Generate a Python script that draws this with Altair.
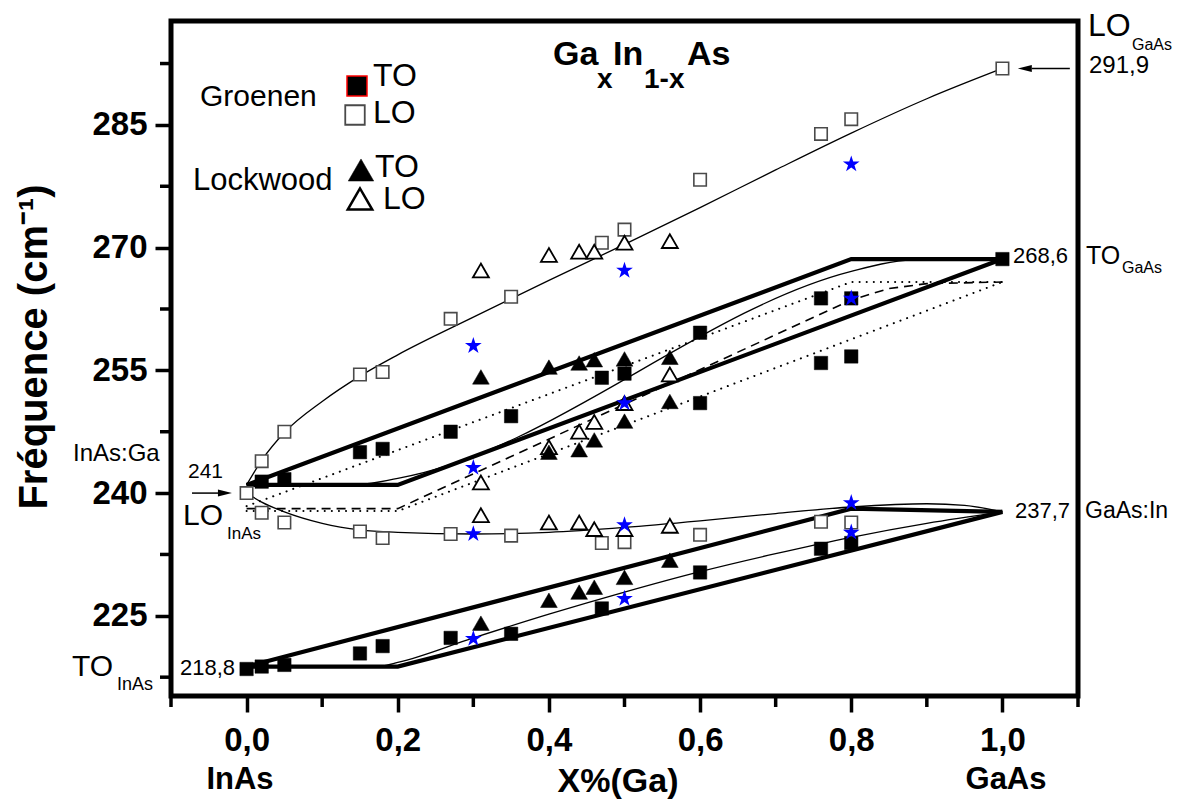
import altair as alt
import pandas as pd

FONT = "Liberation Sans"

# ---------------- data ----------------
# Groenen TO (filled squares)
gto_x = [0.0, 0.02, 0.05, 0.15, 0.18, 0.27, 0.35, 0.47, 0.6, 0.76, 0.8,
         0.02, 0.05, 0.15, 0.18, 0.27, 0.35, 0.47, 0.5, 0.6, 0.76, 0.8,
         0.6, 0.76, 0.8, 1.0]
gto_y = [218.5, 218.8, 219.0, 220.4, 221.3, 222.3, 222.8, 225.9, 230.3, 233.2, 233.9,
         241.4, 241.7, 245.0, 245.4, 247.5, 249.4, 254.1, 254.6, 259.6, 263.8, 263.8,
         251.0, 255.9, 256.7, 268.6]
# Groenen LO (open squares)
glo_x = [0.0, 0.02, 0.05, 0.15, 0.18, 0.27, 0.35, 0.47, 0.5, 0.6, 0.76, 0.8, 1.0,
         0.02, 0.05, 0.15, 0.18, 0.27, 0.35, 0.47, 0.5, 0.6, 0.76, 0.8]
glo_y = [240.0, 243.9, 247.5, 254.5, 254.8, 261.3, 264.0, 270.6, 272.2, 278.3, 283.9, 285.7, 291.9,
         237.6, 236.4, 235.3, 234.5, 235.0, 234.8, 233.9, 234.0, 234.9, 236.5, 236.4]
# Lockwood TO (filled triangles)
lto_x = [0.31, 0.4, 0.44, 0.46, 0.5, 0.56,
         0.4, 0.44, 0.46, 0.5, 0.56,
         0.31, 0.4, 0.44, 0.46, 0.5, 0.56]
lto_y = [254.2, 255.4, 255.9, 256.3, 256.4, 256.6,
         245.0, 245.3, 246.5, 248.8, 251.2,
         224.1, 226.9, 227.9, 228.5, 229.7, 231.8]
# Lockwood LO (open triangles)
llo_x = [0.31, 0.4, 0.44, 0.46, 0.5, 0.56,
         0.31, 0.4, 0.44, 0.46, 0.5, 0.56,
         0.31, 0.4, 0.44, 0.46, 0.5, 0.56]
llo_y = [267.2, 269.1, 269.5, 269.5, 270.6, 270.8,
         241.3, 245.6, 247.5, 248.7, 251.0, 254.5,
         237.3, 236.4, 236.4, 235.6, 235.6, 236.0]
# present work (blue stars)
star_x = [0.3, 0.3, 0.3, 0.3, 0.5, 0.5, 0.5, 0.5, 0.8, 0.8, 0.8, 0.8]
star_y = [258.0, 243.1, 235.0, 222.2, 267.2, 251.0, 236.1, 227.1, 280.2, 263.8, 238.8, 235.2]

# model curves
lo_up_x = [0.0, 0.02, 0.05, 0.1, 0.15, 0.2, 0.3, 0.4, 0.5, 0.6, 0.7, 0.8, 0.9, 1.0]
lo_up_y = [241.0, 244.0, 247.4, 251.2, 254.3, 256.9, 261.5, 266.0, 270.4, 274.9, 279.5, 284.0, 288.2, 291.9]
lo_dn_x = [0.0, 0.02, 0.05, 0.1, 0.15, 0.2, 0.3, 0.4, 0.5, 0.6, 0.7, 0.8, 0.9, 0.95, 1.0]
lo_dn_y = [240.0, 238.9, 237.7, 236.3, 235.5, 235.2, 235.0, 235.2, 235.8, 236.6, 237.5, 238.3, 238.7, 238.5, 237.7]

ta_x = [0.0, 0.8, 1.0]
ta_y = [241.0, 268.6, 268.6]
tb_x = [0.0, 0.2, 1.0]
tb_y = [241.0, 241.0, 268.6]
tc_x = [0.0, 0.15, 0.2, 0.8, 0.84, 0.88, 0.92, 1.0]
tc_y = [241.0, 241.1, 241.8, 267.1, 268.0, 268.5, 268.6, 268.6]
d1_x = [0.0, 0.8, 1.0]
d1_y = [238.4, 265.8, 265.8]
dd_x = [0.0, 0.2, 0.8, 0.85, 0.9, 1.0]
dd_y = [238.1, 238.1, 263.6, 265.0, 265.6, 265.8]
d3_x = [0.0, 0.2, 1.0]
d3_y = [237.8, 237.8, 265.8]

te_x = [0.0, 0.8, 1.0]
te_y = [218.8, 238.1, 237.7]
tf_x = [0.0, 0.2, 1.0]
tf_y = [218.8, 218.8, 237.7]
tg_x = [0.0, 0.18, 0.2, 0.3, 0.4, 0.5, 0.6, 0.7, 0.8, 0.9, 1.0]
tg_y = [218.8, 218.9, 219.3, 222.3, 225.2, 227.9, 230.4, 232.6, 234.6, 236.3, 237.7]

# axis ticks
x_major = [0.0, 0.2, 0.4, 0.6, 0.8, 1.0]
x_minor = [-0.1, 0.1, 0.3, 0.5, 0.7, 0.9, 1.1]
y_major = [225, 240, 255, 270, 285]
y_minor = [217.5, 232.5, 247.5, 262.5, 277.5, 292.5]

# annotation texts
reg_text = ["Groenen", "TO", "LO", "Lockwood", "TO", "LO",
            "LO", "GaAs", "291,9", "268,6", "TO", "GaAs", "237,7", "GaAs:In",
            "InAs:Ga", "241", "LO", "InAs", "TO", "InAs", "218,8"]
reg_px = [29, 202, 202, 22, 204, 212, 917, 961, 918, 842, 915, 951, 844, 914,
          -98, 17, 12, 56, -99, -54, 9]
reg_py = [76, 55, 92, 160, 146, 178, 5, 24, 45, 235, 235, 247, 490, 490,
          433, 451, 495, 513, 646, 664, 647]
reg_fs = [30, 32, 32, 31, 32, 32, 32, 16, 24, 22, 25, 16, 22, 23,
          24, 21, 30, 17, 30, 18, 22]

title_text = ["Ga", "x", "In", "1-x", "As"]
title_px = [382, 426, 442, 473, 516]
title_py = [34, 59, 34, 59, 34]
title_fs = [34, 28, 34, 28, 34]

bot_text = ["InAs", "X%(Ga)", "GaAs"]
bot_px = [69, 447, 835]
bot_py = [759, 761, 759]
bot_fs = [31, 34, 31]

# legend symbols (pixel positions in plot area)
leg_shape = ["sq_fill", "sq_open", "tri_fill", "tri_open"]
leg_px = [186, 184, 190, 189]
leg_py = [65, 94, 149, 178]

# arrows (data coordinates)
arr_x = [1.0389, -0.0722]
arr_x2 = [1.0892, -0.0378]
arr_y = [291.9, 240.0]
head_x = [1.0296, -0.0286]

STAR = ("M0,-1L0.2245,-0.309L0.9511,-0.309L0.3633,0.118L0.5878,0.809L0,0.382"
        "L-0.5878,0.809L-0.3633,0.118L-0.9511,-0.309L-0.2245,-0.309Z")
HEAD_L = "M-1,0L1,-0.5L1,0.5Z"
HEAD_R = "M1,0L-1,-0.5L-1,0.5Z"

# ---------------- scales / axes ----------------
xscale = alt.Scale(domain=[-0.1, 1.1], nice=False, zero=False)
yscale = alt.Scale(domain=[215.2, 297.7], nice=False, zero=False)
xaxis = alt.Axis(values=x_major, labelExpr="replace(format(datum.value, '.1f'), '.', ',')",
                 title=None, domain=False, grid=False, tickSize=16, tickWidth=3.5,
                 tickColor="black", labelFont=FONT, labelFontSize=33, labelFontWeight="bold",
                 labelColor="black", labelPadding=12, labelFlush=False)
yaxis = alt.Axis(values=y_major, format="d", title=None, domain=False, grid=False,
                 tickSize=16, tickWidth=3.5, tickColor="black", labelFont=FONT,
                 labelFontSize=33, labelFontWeight="bold", labelColor="black",
                 labelPadding=8)


def X(f="x"):
    return alt.X(f"{f}:Q", scale=xscale, axis=xaxis)


def Y(f="y"):
    return alt.Y(f"{f}:Q", scale=yscale, axis=yaxis)


def pts(xs, ys):
    return pd.DataFrame({"x": xs, "y": ys})


def lines(specs):
    rows = []
    for lid, (xs, ys) in enumerate(specs):
        for i, (a, b) in enumerate(zip(xs, ys)):
            rows.append({"line": lid, "o": i, "x": a, "y": b})
    return pd.DataFrame(rows)


def line_layer(df, **kw):
    return alt.Chart(df).mark_line(color="black", **kw).encode(
        x=X(), y=Y(), detail="line:N", order="o:Q")


thick = line_layer(lines([(ta_x, ta_y), (tb_x, tb_y), (te_x, te_y), (tf_x, tf_y)]),
                   strokeWidth=4.2, strokeJoin="miter")
thin = line_layer(lines([(lo_up_x, lo_up_y), (lo_dn_x, lo_dn_y), (tc_x, tc_y), (tg_x, tg_y)]),
                  strokeWidth=1.3, interpolate="monotone")
dotted = line_layer(lines([(d1_x, d1_y), (d3_x, d3_y)]),
                    strokeWidth=2.0, strokeDash=[0.1, 7], strokeCap="round")
dashed = line_layer(lines([(dd_x, dd_y)]), strokeWidth=1.6, strokeDash=[9, 6])

sq_fill = alt.Chart(pts(gto_x, gto_y)).mark_point(
    shape="square", filled=True, fill="black", stroke="black", strokeWidth=0.5,
    size=180, opacity=1).encode(x=X(), y=Y())
sq_open = alt.Chart(pts(glo_x, glo_y)).mark_point(
    shape="square", filled=True, fill="white", stroke="#4a4a4a", strokeWidth=1.6,
    size=155, opacity=1).encode(x=X(), y=Y())
tri_fill = alt.Chart(pts(lto_x, lto_y)).mark_point(
    shape="triangle-up", filled=True, fill="black", stroke="black", strokeWidth=0.5,
    size=280, opacity=1).encode(x=X(), y=Y())
tri_open = alt.Chart(pts(llo_x, llo_y)).mark_point(
    shape="triangle-up", filled=True, fill="white", stroke="black", strokeWidth=1.8,
    size=255, opacity=1).encode(x=X(), y=Y())
stars = alt.Chart(pts(star_x, star_y)).mark_point(
    shape=STAR, filled=True, fill="#0000ff", strokeWidth=0, size=310,
    opacity=1).encode(x=X(), y=Y())

# minor ticks
ymin = alt.Chart(pd.DataFrame({"y": y_minor})).mark_rule(
    color="black", strokeWidth=3.5).encode(y=Y(), x=alt.value(-11), x2=alt.value(0))
xmin = alt.Chart(pd.DataFrame({"x": x_minor})).mark_rule(
    color="black", strokeWidth=3.5).encode(x=X(), y=alt.value(675), y2=alt.value(686))

# arrows
arr_df = pd.DataFrame({"x": arr_x, "x2": arr_x2, "y": arr_y, "hx": head_x})
arr_lines = alt.Chart(arr_df).mark_rule(color="black", strokeWidth=1.5).encode(
    x=X(), x2="x2:Q", y=Y())
head_l = alt.Chart(arr_df.iloc[[0]]).mark_point(
    shape=HEAD_L, filled=True, fill="black", size=196, opacity=1, strokeWidth=0
).encode(x=X("hx"), y=Y())
head_r = alt.Chart(arr_df.iloc[[1]]).mark_point(
    shape=HEAD_R, filled=True, fill="black", size=196, opacity=1, strokeWidth=0
).encode(x=X("hx"), y=Y())


def text_layer(texts, xs, ys, fss, weight, align):
    df = pd.DataFrame({"t": texts, "px": xs, "py": ys, "fs": fss})
    return alt.Chart(df).mark_text(
        font=FONT, fontWeight=weight, align=align, baseline="middle", color="black"
    ).encode(
        x=alt.X("px:Q", scale=None), y=alt.Y("py:Q", scale=None),
        text="t:N", size=alt.Size("fs:Q", scale=None, legend=None))


reg_layer = text_layer(reg_text, reg_px, reg_py, reg_fs, "normal", "left")
title_layer = text_layer(title_text, title_px, title_py, title_fs, "bold", "left")
bot_layer = text_layer(bot_text, bot_px, bot_py, bot_fs, "bold", "center")

ytitle = alt.Chart(pd.DataFrame({"t": ["Fréquence (cm⁻¹)"]})).mark_text(
    font=FONT, fontWeight="bold", fontSize=40, angle=270, align="center",
    baseline="middle", color="black"
).encode(text="t:N", x=alt.value(-136), y=alt.value(326))

# legend symbols
leg_df = pd.DataFrame({"s": leg_shape, "px": leg_px, "py": leg_py})
legsq1 = alt.Chart(leg_df.iloc[[0]]).mark_point(
    shape="square", filled=True, fill="black", stroke="#ff0000", strokeWidth=1.5,
    size=400, opacity=1).encode(x=alt.X("px:Q", scale=None), y=alt.Y("py:Q", scale=None))
legsq2 = alt.Chart(leg_df.iloc[[1]]).mark_point(
    shape="square", filled=True, fill="white", stroke="#4a4a4a", strokeWidth=1.8,
    size=380, opacity=1).encode(x=alt.X("px:Q", scale=None), y=alt.Y("py:Q", scale=None))
legtr1 = alt.Chart(leg_df.iloc[[2]]).mark_point(
    shape="triangle-up", filled=True, fill="black", stroke="black", strokeWidth=0.5,
    size=650, opacity=1).encode(x=alt.X("px:Q", scale=None), y=alt.Y("py:Q", scale=None))
legtr2 = alt.Chart(leg_df.iloc[[3]]).mark_point(
    shape="triangle-up", filled=True, fill="white", stroke="black", strokeWidth=2.5,
    size=600, opacity=1).encode(x=alt.X("px:Q", scale=None), y=alt.Y("py:Q", scale=None))

chart = alt.layer(
    thin, dotted, dashed, thick,
    sq_open, tri_open, sq_fill, tri_fill, stars,
    ymin, xmin, arr_lines, head_l, head_r,
    reg_layer, title_layer, bot_layer, ytitle,
    legsq1, legsq2, legtr1, legtr2,
).properties(
    width=907, height=675,
    autosize=alt.AutoSizeParams(type="none"),
    padding={"left": 163, "top": 13, "right": 95, "bottom": 103},
).configure_view(stroke="black", strokeWidth=5)

chart.save("out.html", embed_options={"renderer": "svg", "actions": False})
